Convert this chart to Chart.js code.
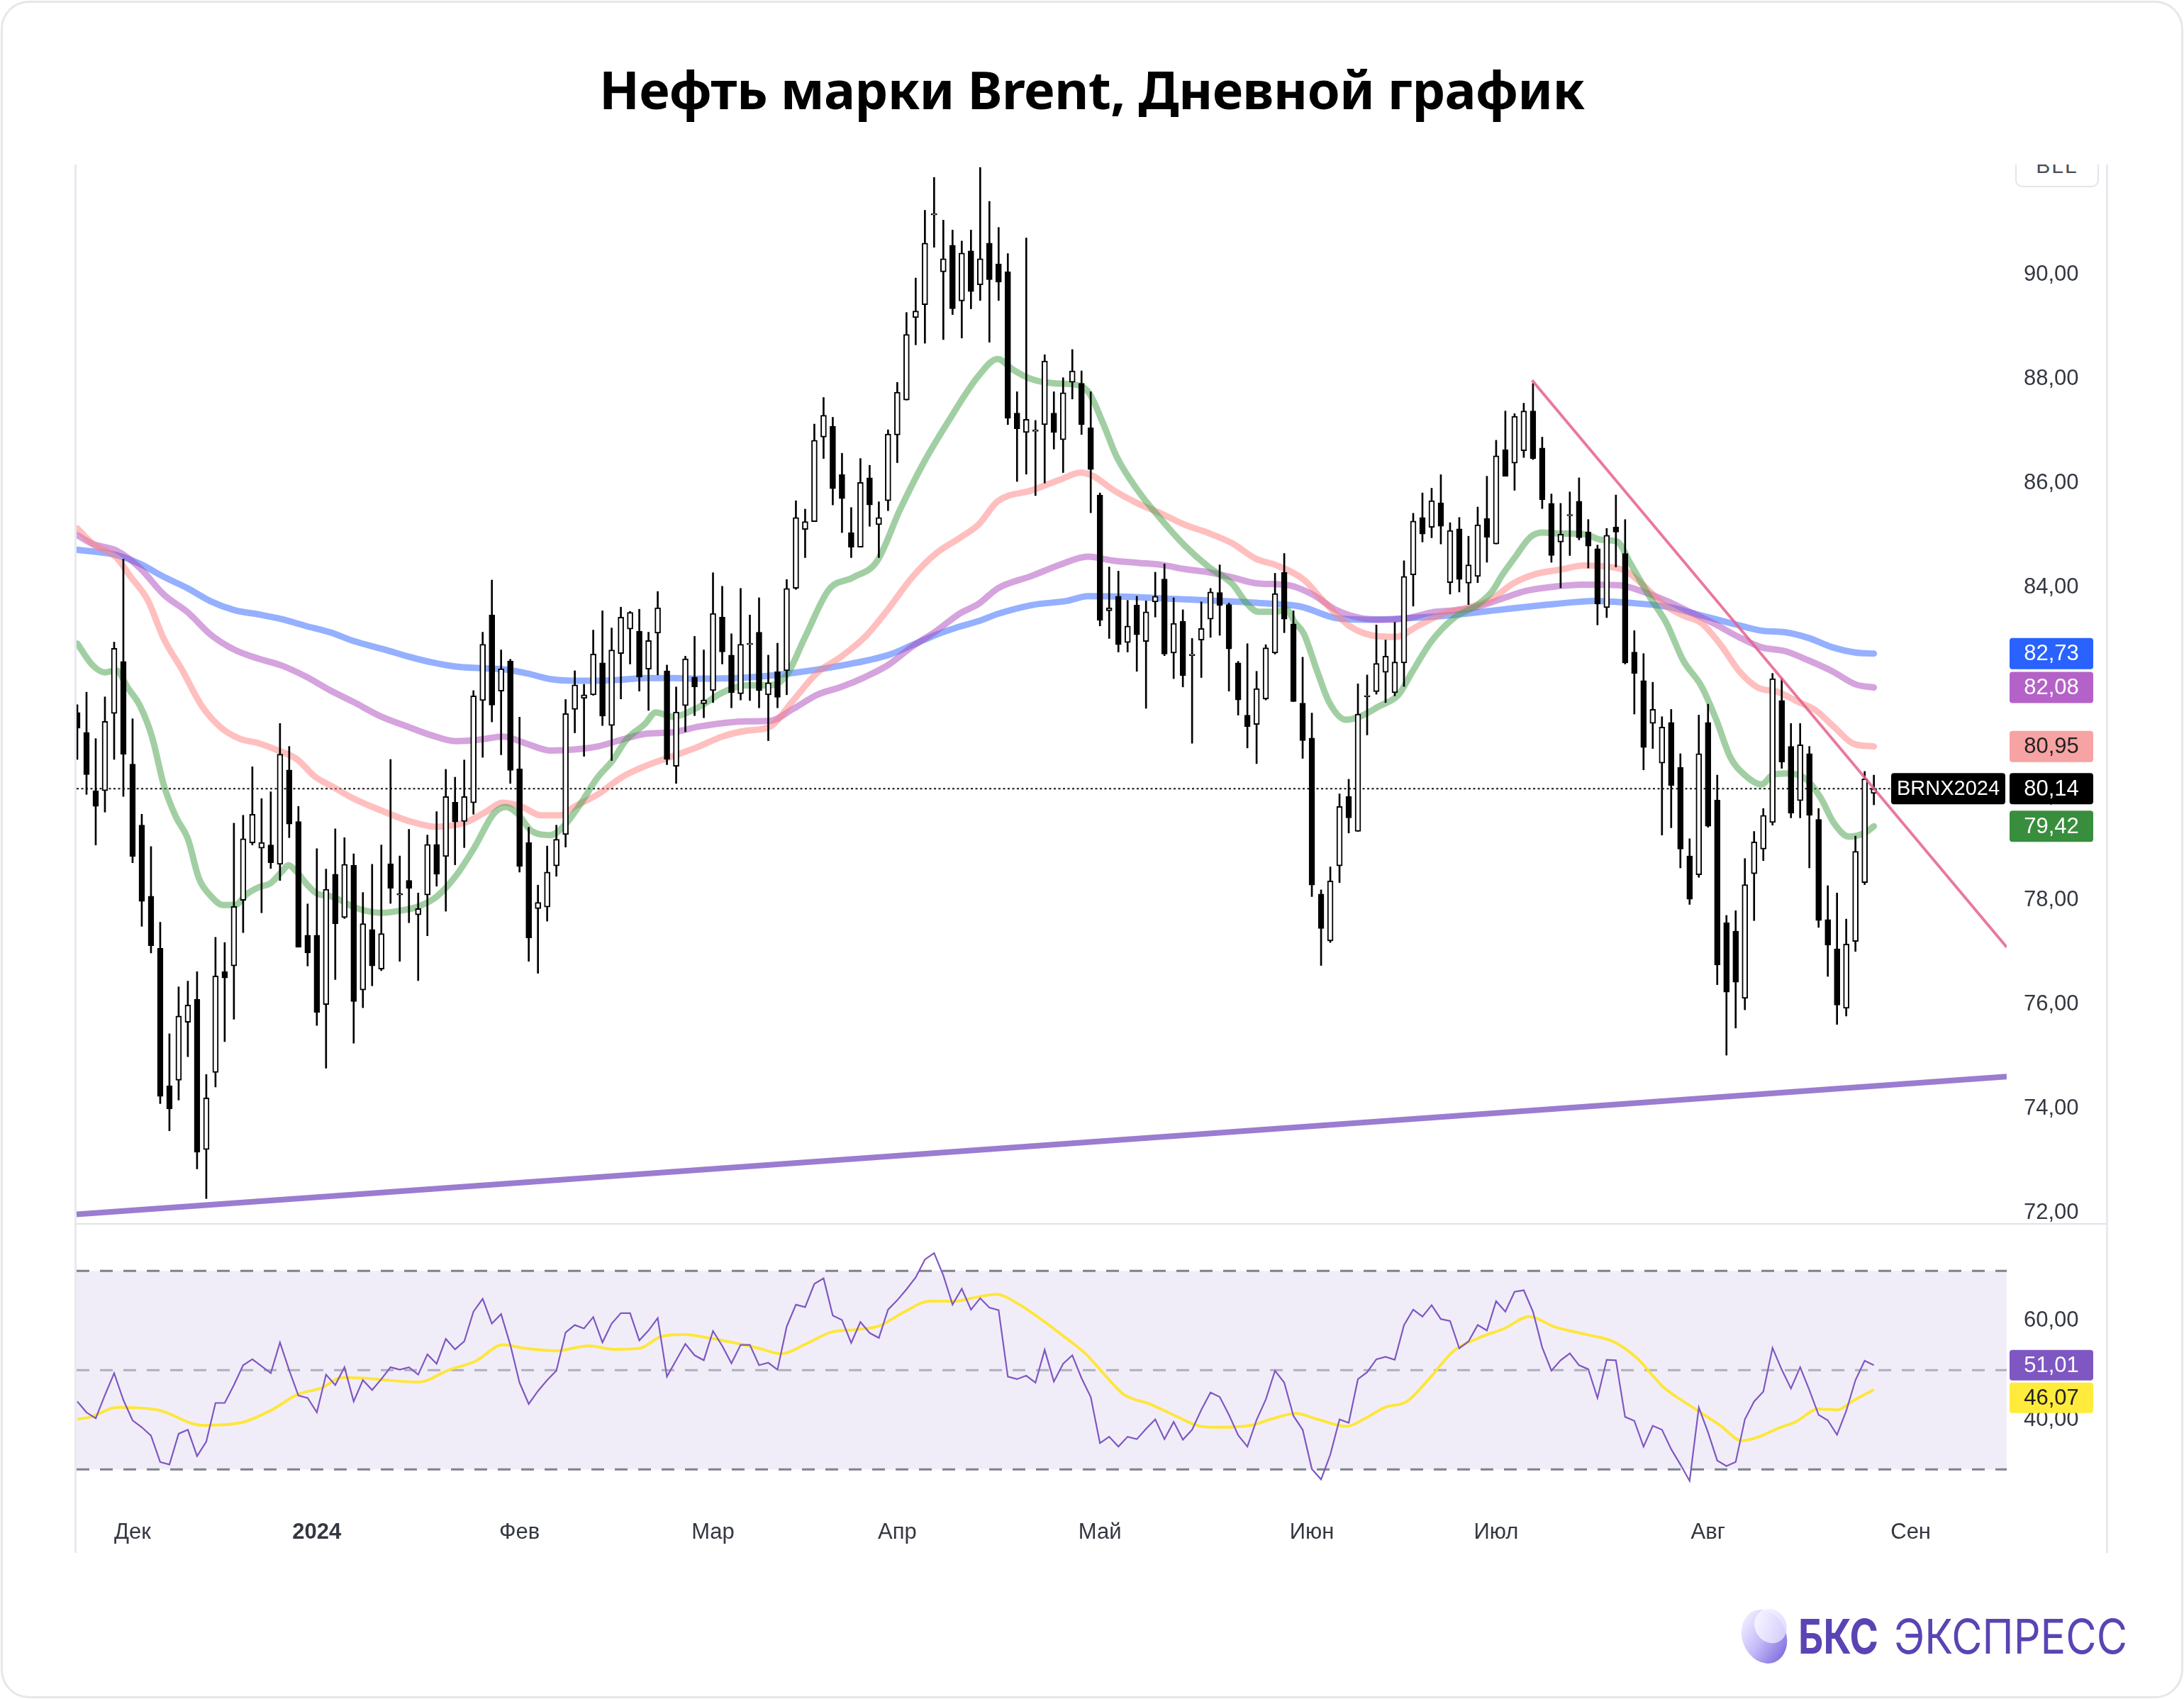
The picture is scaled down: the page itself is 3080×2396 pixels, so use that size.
<!DOCTYPE html>
<html><head><meta charset="utf-8">
<script src="https://cdn.jsdelivr.net/npm/chart.js@4.4.1/dist/chart.umd.min.js"></script>
<style>
html,body{margin:0;padding:0;background:#fff;}
#page{position:relative;width:3080px;height:2396px;overflow:hidden;background:#fff;}
#card{position:absolute;left:1px;top:1px;width:3078px;height:2394px;border:3px solid #e6e6ec;border-radius:40px;box-sizing:border-box;}
canvas{position:absolute;left:0;}
.ln{position:absolute;background:#e8e9ef;}
svg{position:absolute;left:0;top:0;}
#clipbox{position:absolute;left:2838px;top:232px;width:130px;height:36px;overflow:hidden;}
#btn{position:absolute;left:4px;top:-30px;width:118px;height:62px;border:2px solid #e4e5ea;border-radius:10px;box-sizing:border-box;background:#fff;
 font-family:'Liberation Sans',Arial,sans-serif;font-size:30px;color:#4a4d57;text-align:center;line-height:30px;padding-top:15px;letter-spacing:2px;}
</style></head><body>
<div id="page">
<div id="card"></div>
<svg width="3080" height="232"><text x="1540" y="154" text-anchor="middle" font-family="'Noto Sans', 'Open Sans', sans-serif" font-weight="700" font-size="74" fill="#000" textLength="1390" lengthAdjust="spacing">Нефть марки Brent, Дневной график</text></svg>
<div class="ln" style="left:105px;top:232px;width:3px;height:1958px"></div>
<div class="ln" style="left:2970px;top:232px;width:3px;height:1958px"></div>
<div class="ln" style="left:108px;top:1725px;width:2862px;height:2px;background:#e0e2e8"></div>
<div id="clipbox"><div id="btn">BLL</div></div>
<canvas id="price" width="3080" height="1760" style="top:0px"></canvas>
<canvas id="rsi" width="3080" height="696" style="top:1700px"></canvas>
<svg width="3080" height="2396" style="pointer-events:none">
 <defs>
  <linearGradient id="sg" x1="0.2" y1="0" x2="0.75" y2="1">
   <stop offset="0" stop-color="#f6f3ff"/><stop offset="0.5" stop-color="#c4baf8"/><stop offset="1" stop-color="#7d6cdc"/>
  </linearGradient>
  <linearGradient id="hg" x1="0" y1="0" x2="1" y2="1">
   <stop offset="0" stop-color="#ffffff"/><stop offset="1" stop-color="#d9d2ff"/>
  </linearGradient>
 </defs>
 <ellipse cx="2488" cy="2308" rx="31" ry="39" transform="rotate(-22 2488 2308)" fill="url(#sg)"/>
 <ellipse cx="2497" cy="2293" rx="22" ry="25" transform="rotate(-30 2497 2293)" fill="url(#hg)" opacity="0.85"/>
 <text x="2536" y="2332" font-family="Inter, 'Noto Sans', sans-serif" font-weight="700" font-size="68" fill="#5a44b4" textLength="113" lengthAdjust="spacingAndGlyphs">БКС</text>
 <text x="2671" y="2332" font-family="Inter, 'Noto Sans', sans-serif" font-weight="400" font-size="68" fill="#5a44b4" textLength="329" lengthAdjust="spacingAndGlyphs">ЭКСПРЕСС</text>
</svg>
</div>
<script>
// ---------- DATA ----------
const opens  = [81.6,81.22,80.10,80.10,81.58,82.58,80.61,79.44,78.08,77.08,74.44,74.55,75.66,76.10,73.22,74.70,76.63,76.74,78.00,79.10,79.00,79.06,78.69,80.50,79.51,77.33,77.33,76.00,78.50,77.67,78.67,76.28,77.44,76.68,78.70,78.10,78.38,77.72,78.10,79.07,78.84,79.88,79.51,79.87,81.83,83.47,82.01,82.59,80.52,79.11,77.84,77.87,78.66,79.26,81.66,81.87,81.94,82.55,81.35,82.73,83.20,83.16,82.43,83.12,82.40,80.57,81.73,82.28,81.77,82.02,83.43,82.70,81.96,82.90,83.14,81.94,82.38,82.40,83.98,85.11,85.26,86.88,87.09,86.16,85.05,84.77,86.10,85.20,85.66,86.92,87.59,89.17,89.42,91.14,90.05,90.56,89.49,90.45,89.80,90.60,90.20,90.05,87.34,86.97,86.99,87.12,87.34,86.83,87.93,87.91,87.06,85.77,83.55,83.83,82.94,83.66,82.96,83.72,84.16,82.74,83.35,82.69,82.99,83.39,83.90,83.67,82.55,81.55,81.37,81.86,82.74,84.29,83.30,81.78,81.11,78.12,77.22,78.66,79.99,79.32,81.90,82.00,82.37,81.98,82.55,84.24,85.34,85.15,85.62,84.09,85.12,84.08,84.21,85.32,84.83,86.64,86.38,86.62,87.38,86.67,85.61,84.87,85.37,85.65,85.06,84.74,83.61,85.16,84.65,82.76,82.21,81.39,80.63,81.41,80.55,78.85,78.49,81.41,79.92,77.57,77.41,76.12,78.51,78.98,79.49,81.83,80.95,79.91,80.81,79.55,77.63,77.07,75.93,77.21,78.34,80.05];
const highs  = [81.75,81.99,81.10,81.90,82.95,84.54,81.48,79.65,79.03,77.58,75.44,76.34,76.45,76.63,74.66,77.29,77.19,79.48,79.63,80.56,79.95,80.08,81.39,80.95,79.80,77.93,78.99,78.60,79.37,79.20,78.89,78.15,78.69,79.06,80.70,78.85,79.36,78.14,79.25,79.70,80.51,80.36,80.69,82.02,83.14,84.14,82.80,82.62,81.51,79.40,78.29,79.04,79.44,81.85,82.40,82.14,83.18,83.55,83.22,83.62,83.54,83.58,83.14,83.92,82.51,82.09,82.68,83.06,82.80,84.28,84.02,83.11,83.98,83.47,83.80,82.70,82.93,84.15,85.66,85.50,87.13,87.64,87.26,86.57,85.53,86.47,86.34,85.64,87.02,87.93,89.27,89.93,91.23,91.86,91.04,90.85,90.64,90.85,92.05,91.40,90.90,90.40,87.75,90.70,87.20,88.46,87.75,88.02,88.56,88.15,87.75,85.81,84.39,84.31,83.75,83.83,83.74,84.29,84.45,83.80,83.57,83.02,83.72,83.98,84.43,83.70,82.58,82.92,82.39,82.90,84.27,84.65,83.55,82.66,81.59,78.20,78.64,80.04,80.32,82.15,82.32,83.28,82.99,83.33,84.51,85.42,85.81,85.90,86.16,85.24,85.34,84.98,85.54,86.13,86.82,87.38,87.33,87.53,87.91,86.88,85.79,85.61,85.83,86.10,85.30,84.81,85.13,85.77,85.30,83.17,82.73,82.18,81.52,81.66,80.81,79.18,81.55,81.76,80.40,77.71,77.80,78.80,79.32,79.76,82.35,82.25,81.39,81.39,80.95,79.76,78.28,78.14,77.64,79.23,80.47,80.40];
const lows   = [80.7,80.03,79.06,79.69,80.70,79.99,78.72,77.50,76.99,74.10,73.58,74.17,75.00,72.85,72.28,74.42,75.29,75.72,77.38,79.06,77.76,78.61,78.38,79.20,77.10,76.74,75.60,74.78,76.48,77.65,75.26,75.94,76.36,76.65,77.94,76.83,77.57,76.46,77.32,78.27,77.79,78.68,79.01,79.65,80.74,81.42,80.79,80.24,78.54,76.83,76.60,77.60,78.46,79.02,81.21,80.76,81.93,81.35,80.68,81.86,82.53,82.01,81.64,82.32,80.60,80.24,81.23,81.54,81.50,81.79,82.53,81.69,81.84,81.83,81.69,81.06,81.69,81.94,83.96,84.57,85.26,86.47,85.58,85.05,84.57,84.77,85.17,84.57,85.47,86.39,87.59,88.65,88.68,90.52,88.75,89.23,88.78,89.34,89.50,88.70,89.50,87.12,86.03,86.17,85.76,86.00,86.65,86.20,87.61,86.93,85.43,83.26,83.02,82.76,82.76,82.39,81.68,83.43,82.69,82.25,82.09,81.01,82.27,83.04,83.08,82.01,81.55,80.92,80.62,81.84,82.72,83.13,81.81,80.72,78.07,76.75,77.19,78.34,79.29,79.32,81.17,81.95,81.79,81.92,82.10,83.64,84.87,84.95,84.83,83.87,83.91,83.67,84.09,84.48,84.83,86.13,85.86,86.49,86.45,85.51,84.48,83.99,84.61,84.91,84.37,83.28,83.42,84.39,82.53,81.57,80.50,80.91,79.25,79.39,78.62,77.92,78.44,79.40,76.38,75.03,75.55,75.90,77.61,78.76,79.44,80.53,79.58,79.58,78.62,77.48,76.54,75.62,75.78,77.02,78.30,79.83];
const closes = [81.3,80.41,79.80,81.43,82.83,80.80,78.84,77.98,77.13,74.24,74.00,75.78,75.99,73.17,74.21,76.55,76.51,77.88,79.18,79.65,79.11,78.72,80.80,79.46,77.10,76.99,75.85,78.21,77.55,78.69,76.06,77.55,76.74,77.36,78.23,78.12,78.23,77.84,79.07,78.50,79.99,79.50,79.99,81.92,82.91,81.74,82.44,80.49,78.65,77.28,77.96,78.54,79.17,81.58,82.13,81.94,82.72,81.53,82.80,83.43,83.52,82.28,82.98,83.61,80.70,81.61,82.63,82.09,81.84,83.50,82.76,81.98,82.91,82.92,82.02,82.17,81.89,83.98,85.34,85.26,86.82,87.30,85.89,85.70,84.77,86.01,85.58,85.34,86.94,87.74,88.85,89.30,90.60,91.16,90.30,89.34,90.41,89.67,90.30,89.90,89.85,87.24,87.04,87.22,87.01,88.34,86.97,87.73,88.15,87.12,86.26,83.37,83.61,82.90,83.26,83.09,83.53,83.83,82.72,83.31,82.31,82.70,83.21,83.91,83.65,82.82,81.84,81.33,82.06,82.84,83.88,83.39,81.81,81.06,78.29,77.46,78.37,79.80,79.58,81.57,81.91,82.54,82.68,82.57,84.21,85.27,85.02,85.66,85.17,85.09,84.15,84.43,85.20,84.96,86.52,86.13,87.28,87.38,86.47,85.68,84.61,85.02,85.38,84.95,84.79,83.68,85.00,85.06,82.55,82.35,80.93,81.66,81.32,80.20,78.98,78.02,80.81,79.42,76.76,76.24,76.43,78.30,79.12,79.63,82.25,80.65,79.67,80.98,79.63,77.61,77.14,75.99,77.16,78.94,80.33,80.14];

const maGreen  = [[0,82.92],[1.7,82.5],[3,82.37],[4.2,82.41],[5.5,82.07],[6.8,81.73],[8.1,81.14],[9.4,80.2],[10.7,79.6],[12,79.18],[13.2,78.42],[14.5,78.08],[15.8,77.91],[17.1,77.91],[18.4,78.12],[19.7,78.25],[21,78.33],[22.2,78.55],[22.9,78.67],[23.8,78.55],[24.8,78.33],[26.1,78.12],[27.4,78.08],[28.7,77.99],[30,77.87],[31.3,77.8],[33,77.76],[35,77.8],[37,77.88],[39,78.07],[41.1,78.47],[43.1,79.01],[45.2,79.66],[46.5,79.79],[47.8,79.66],[49.3,79.33],[51.4,79.25],[52.9,79.44],[54.5,79.82],[56.5,80.36],[58.1,80.68],[59.6,81.08],[61.6,81.38],[62.8,81.6],[64.6,81.52],[67.5,81.71],[70,81.98],[72.6,82.12],[75.2,82.12],[77,82.32],[79,83.05],[81.6,83.96],[84.2,84.19],[86.8,84.5],[89.3,85.49],[91.9,86.4],[94.5,87.17],[97.8,88.05],[99.9,88.38],[101.5,88.18],[103.6,87.99],[106.2,87.91],[108.2,87.89],[109.8,87.73],[111.3,87.16],[112.8,86.51],[115.1,85.86],[117.7,85.29],[120.2,84.8],[122.8,84.39],[125.4,84.06],[126.9,83.7],[128.2,83.53],[130,83.53],[131.3,83.57],[132.1,83.34],[133.1,83.12],[134.6,82.38],[135.9,81.79],[137.7,81.46],[139.3,81.53],[141.3,81.72],[143.4,81.94],[144.9,82.38],[147,82.97],[149.4,83.41],[152,83.67],[153.6,83.93],[154.6,84.22],[156.1,84.59],[157.7,84.96],[159,85.05],[161,85.03],[163.5,85.02],[165.5,84.91],[167.1,84.88],[168.6,84.45],[170.7,83.81],[172.5,83.31],[174.3,82.6],[176.3,82.1],[177.9,81.46],[179.4,80.75],[181,80.4],[182.8,80.22],[184,80.4],[185.6,80.43],[187.6,80.33],[189.2,79.97],[190.7,79.47],[192.3,79.22],[194.1,79.3],[195,79.42]];
const maPink   = [[0,85.13],[1.7,84.83],[4.2,84.58],[5.8,84.2],[7.6,83.77],[9.4,83.01],[11.4,82.41],[13.5,81.73],[15.6,81.31],[17.6,81.1],[19.7,81.01],[21.7,80.88],[23.8,80.71],[25.8,80.37],[27.9,80.16],[30,79.95],[33,79.72],[36,79.52],[39,79.41],[42.1,79.49],[44.2,79.68],[46.2,79.87],[48.3,79.79],[50.3,79.63],[52.4,79.63],[53.9,79.79],[56.5,80.03],[59.1,80.36],[61.6,80.57],[64.6,80.76],[67.5,80.95],[70,81.14],[72.6,81.25],[75.2,81.33],[77.7,81.83],[80.3,82.36],[82.9,82.67],[85.5,83.05],[88,83.58],[90.6,84.19],[93.2,84.65],[95.8,84.95],[97.8,85.2],[99.9,85.65],[103.6,85.86],[106.6,86.06],[108.9,86.2],[110.2,86.14],[112.5,85.86],[115.1,85.61],[117.7,85.41],[120.2,85.2],[122.8,85.04],[125.4,84.84],[127.9,84.55],[130.2,84.42],[133.1,84.15],[135.4,83.71],[138,83.27],[140.5,83.08],[143.1,83.05],[145.6,83.27],[148.2,83.49],[150.7,83.6],[153.3,83.75],[155.9,84.08],[158.4,84.26],[161,84.34],[163.5,84.42],[166,84.4],[168.1,84.31],[170.1,84.02],[172.2,83.67],[174.3,83.46],[176.3,83.31],[178.4,82.89],[180.4,82.39],[182.5,82.07],[184.5,82.0],[186.6,81.82],[188.7,81.64],[190.7,81.32],[192.8,81.0],[195,80.95]];
const maPurple = [[0,85.0],[1.7,84.83],[4.2,84.71],[6.8,84.37],[9.4,83.86],[12,83.52],[14.5,83.09],[17.1,82.8],[19.7,82.63],[22.2,82.5],[24.8,82.29],[27.4,82.03],[30,81.8],[33,81.52],[36,81.32],[38.5,81.16],[41.1,81.05],[43.7,81.08],[46.2,81.14],[48.8,81.0],[51.4,80.87],[53.9,80.89],[56.5,80.95],[59.1,81.08],[61.6,81.19],[64.6,81.22],[67.5,81.33],[72.6,81.43],[75.2,81.44],[77.7,81.67],[80.3,81.94],[82.9,82.09],[85.5,82.28],[88,82.51],[90.6,82.86],[93.2,83.16],[95.8,83.5],[97.8,83.68],[99.9,83.98],[103.6,84.22],[106.6,84.43],[109.7,84.59],[112.5,84.51],[115.1,84.47],[117.7,84.43],[120.2,84.35],[122.8,84.29],[125.4,84.19],[127.9,84.08],[131.5,84.04],[134.1,83.86],[136.7,83.56],[139.3,83.41],[141.8,83.38],[144.4,83.41],[147,83.52],[149.4,83.56],[152,83.63],[154.6,83.78],[157.2,83.93],[159.7,84.0],[163.5,84.05],[167.3,84.04],[169.9,83.92],[172.5,83.74],[175,83.53],[177.6,83.31],[180.2,83.06],[182.8,82.85],[185.3,82.78],[187.9,82.6],[190.5,82.39],[193,82.14],[195,82.08]];
const maBlue   = [[0,84.72],[4.2,84.62],[6.8,84.45],[9.4,84.2],[12,83.98],[14.5,83.73],[17.1,83.56],[19.7,83.48],[22.2,83.39],[24.8,83.26],[27.4,83.14],[30,82.97],[33.5,82.8],[36,82.67],[38.5,82.56],[41.1,82.48],[43.7,82.45],[46.2,82.43],[48.8,82.35],[51.4,82.24],[53.9,82.21],[56.5,82.21],[59.1,82.23],[61.6,82.26],[64.6,82.26],[67.5,82.25],[72.6,82.27],[77.7,82.36],[82.9,82.5],[88,82.7],[90.6,82.89],[93.2,83.09],[95.8,83.25],[97.8,83.35],[99.9,83.49],[103.6,83.66],[107.4,83.74],[109.7,83.83],[113.8,83.82],[118.9,83.78],[124.1,83.74],[129.2,83.69],[132.8,83.63],[136.7,83.41],[140.5,83.38],[144.4,83.41],[148.2,83.45],[152,83.52],[155.9,83.6],[159.7,83.67],[162.8,83.72],[164.7,83.74],[168.6,83.7],[172.5,83.63],[176.3,83.46],[180.2,83.28],[182.8,83.17],[185.3,83.14],[187.9,83.03],[190.5,82.85],[193,82.75],[195,82.73]];

const trendDown = [[157.9,87.97],[209.42,77.1]];
const trendUp   = [[-0.077,71.98],[209.42,74.62]];

const rsiValues = [43.7,41.5,40.3,45,49.4,44,39.9,38.5,36.8,31.5,31.0,37.2,38.0,32.7,35.6,43.4,43.4,47,51.0,52.2,50.8,49.4,55.6,50,44.9,44.4,41.5,49.1,47.0,50.6,43.7,48.0,46.0,48.2,50.6,50.1,50.6,49.1,53.2,51.3,56.3,54.2,55.8,61.8,64.4,59.4,61.3,55.1,47.5,43.2,45.8,48.0,49.9,57.6,59.1,58.4,60.7,55.6,59.4,61.5,61.5,56.0,58,60.5,48.7,52.0,55.3,53.0,52.0,57.9,54.9,51.4,55.1,55.1,51.0,51.5,50.1,58.8,63.2,62.7,67.4,68.5,61.0,60.1,55.5,59.7,57.5,56.5,62.2,64.1,66.3,68.7,72.3,73.6,69.1,63.2,66.4,62.2,64.5,62.6,62.1,48.7,48.2,48.9,47.5,54.1,47.7,51.3,53.0,48.4,44.6,35.3,36.6,34.6,36.6,36.1,38.2,40.1,36.1,39.6,36.0,38.0,42,45.5,44.6,41,36.9,34.6,40,44.1,49.9,47.5,40.8,38.0,30.1,28.0,33.0,40.1,39.4,48.2,49.6,52.2,52.7,52.1,59.1,62.2,60.8,63.1,60.3,59.9,54.4,55.8,59.1,58.0,63.9,61.8,65.8,66.1,61.8,54.6,49.9,52.0,53.4,51.0,50.2,44.4,52.1,52.0,40.6,39.8,34.6,38.8,38.0,34.1,31.0,27.7,42.5,37.5,31.8,30.7,31.5,40.1,43.7,45.7,54.5,50.1,46.3,50.6,46.0,41.0,39.9,37.0,41.8,48.0,51.9,51.0];
const rsiMA = [[0,40.1],[1.5,40.6],[4.3,42.5],[8.7,42.0],[13.6,38.9],[17.7,39.4],[21.1,42.0],[23.9,45.1],[26.6,46.5],[28.7,48.5],[31.1,48.4],[34.2,47.9],[37,47.6],[40.4,50.1],[43.2,51.8],[46.2,55.1],[48.6,54.4],[52,53.9],[55.5,54.9],[58.3,54.2],[61,54.4],[63.4,56.8],[65.8,57.2],[68.5,56.5],[71.9,55.3],[74,54.4],[76.4,53.3],[79.1,55.3],[81.9,57.7],[84.6,58.2],[87,58.9],[89.8,61.8],[92.5,63.9],[95.2,63.9],[97.6,64.7],[99.7,65.3],[102.1,63.4],[104.2,60.8],[106.8,57.2],[109.5,53.2],[111.6,48.9],[113.6,45.1],[116.4,43.2],[119.2,40.8],[121.9,38.7],[124,38.5],[127.4,38.9],[129.5,40.1],[132.3,41.3],[134.3,40.3],[137.8,38.7],[139.8,40.3],[141.9,42.5],[144.3,43.7],[146.6,48.0],[149.4,53.9],[152.1,56.5],[154.9,58.4],[157.6,60.8],[160.4,58.7],[163.8,57.2],[166.9,55.6],[169.3,52.4],[172.1,46.7],[175.6,42.2],[178.3,38.9],[180.7,35.8],[182.4,36.5],[184.5,38.2],[186.5,39.6],[189,42.2],[191,42.0],[192.8,43.9],[195,46.07]];

const monthTickIdx    = [6,26,48,69,89,111,134,154,177,199];
const monthTickLabels = ['Дек','2024','Фев','Мар','Апр','Май','Июн','Июл','Авг','Сен'];
const priceTicks = [72,74,76,78,80,82,84,86,88,90];
const rsiTicks   = [40,60];
const rsiLevels  = [70,50,30];
const lastPrice  = 80.14;
const symbolName = 'BRNX2024';
const priceTagValues = [82.73,82.08,80.95,80.14,79.42];
const rsiTagValues   = [51.01,46.07];

// ---------- STYLE / LAYOUT ----------
const XMIN=-0.077, XMAX=209.42, PMIN=71.795, PMAX=92.107, RMIN=21.76, RMAX=79.47;
const FONT = "'Liberation Sans', Arial, sans-serif";
const priceTagBg = ['#2962ff','#b562c8','#f7a3a3','#000000','#388e3c'];
const priceTagFg = ['#ffffff','#ffffff','#222222','#ffffff','#ffffff'];
const rsiTagBg = ['#7e57c2','#ffeb3b'], rsiTagFg = ['#ffffff','#222222'];
const fmt = v => v.toFixed(2).replace('.', ',');
const idx = closes.map((_, i) => i);
const pts = a => a.map(p => ({x:p[0], y:p[1]}));

function tagBox(ctx, x, w, yc, h, bg, fg, text, font){
  ctx.save();
  ctx.fillStyle = bg;
  ctx.beginPath(); ctx.roundRect(x, yc - h/2, w, h, 4); ctx.fill();
  ctx.fillStyle = fg; ctx.font = font; ctx.textAlign = 'center'; ctx.textBaseline = 'middle';
  ctx.fillText(text, x + w/2, yc + 1);
  ctx.restore();
}
function placeTags(ys, h){ const out=[]; ys.forEach((y,k)=>{ let yy=y; if(k>0 && yy-out[k-1] < h+3) yy = out[k-1]+h+3; out.push(yy);}); return out; }

const fixY = w => (s) => { s.width = w; s.paddingTop = 0; s.paddingBottom = 0; };

const pricePlugin = {
  id:'priceDeco',
  beforeDatasetsDraw(chart){
    const {ctx, chartArea:a} = chart; const y = chart.scales.y.getPixelForValue(lastPrice);
    ctx.save(); ctx.strokeStyle='#111'; ctx.lineWidth=2; ctx.setLineDash([3,3.5]);
    ctx.beginPath(); ctx.moveTo(a.left, y); ctx.lineTo(a.right, y); ctx.stroke(); ctx.restore();
  },
  afterDraw(chart){
    const {ctx, chartArea:a} = chart; const sy = chart.scales.y;
    const ys = placeTags(priceTagValues.map(v => sy.getPixelForValue(v)), 44);
    priceTagValues.forEach((v,k) => tagBox(ctx, a.right+4, 118, ys[k], 44, priceTagBg[k], priceTagFg[k], fmt(v), '31px '+FONT));
    tagBox(ctx, a.right-163, 161, sy.getPixelForValue(lastPrice), 44, '#000', '#fff', symbolName, '29px '+FONT);
  }
};
const rsiPlugin = {
  id:'rsiDeco',
  beforeDatasetsDraw(chart){
    const {ctx, chartArea:a} = chart; const sy = chart.scales.y;
    const y70 = sy.getPixelForValue(rsiLevels[0]), y30 = sy.getPixelForValue(rsiLevels[2]);
    ctx.save();
    ctx.fillStyle = 'rgba(126,87,194,0.11)'; ctx.fillRect(a.left, y70, a.right-a.left, y30-y70);
    rsiLevels.forEach((lv,k) => {
      const y = sy.getPixelForValue(lv);
      ctx.strokeStyle = k===1 ? 'rgba(120,123,134,0.55)' : 'rgba(120,123,134,0.95)';
      ctx.lineWidth = 3; ctx.setLineDash([18,15]);
      ctx.beginPath(); ctx.moveTo(a.left, y); ctx.lineTo(a.right, y); ctx.stroke();
    });
    ctx.restore();
  },
  afterDraw(chart){
    const {ctx, chartArea:a} = chart; const sy = chart.scales.y;
    const ys = placeTags(rsiTagValues.map(v => sy.getPixelForValue(v)), 43);
    rsiTagValues.forEach((v,k) => tagBox(ctx, a.right+4, 118, ys[k], 43, rsiTagBg[k], rsiTagFg[k], fmt(v), '31px '+FONT));
  }
};

const maLine = (data, color, order) => ({type:'line', data:pts(data), borderColor:color, borderWidth:9, pointRadius:0, cubicInterpolationMode:'monotone', order, borderCapStyle:'round'});
const trLine = (data, color, w) => ({type:'line', data:pts(data), borderColor:color, borderWidth:w, pointRadius:0, tension:0, order:0});

new Chart(document.getElementById('price'), {
  type:'bar',
  data:{datasets:[
    maLine(maBlue,  'rgba(41,98,255,0.5)', 13),
    maLine(maPurple,'rgba(171,71,188,0.5)', 12),
    maLine(maPink,  'rgba(255,128,128,0.5)', 11),
    maLine(maGreen, 'rgba(67,160,71,0.5)', 10),
    {type:'bar', data: idx.map(i => ({x:i, y:[lows[i], highs[i]]})), backgroundColor:'#000', barThickness:2, grouped:false, order:6},
    {type:'bar', data: idx.map(i => ({x:i, y:[opens[i], closes[i]]})),
      backgroundColor: idx.map(i => closes[i] >= opens[i] ? '#ffffff' : '#000000'),
      borderColor:'#000', borderWidth:2, borderSkipped:false, barThickness:8, minBarLength:2, grouped:false, order:5},
    trLine(trendDown, 'rgba(229,96,140,0.85)', 4),
    trLine(trendUp, 'rgba(149,117,205,0.95)', 8)
  ]},
  options:{
    responsive:false, animation:false, events:[],
    layout:{padding:{left:108, right:108, top:232, bottom:34}},
    plugins:{legend:{display:false}, tooltip:{enabled:false}},
    scales:{
      x:{type:'linear', min:XMIN, max:XMAX, offset:false, display:false},
      y:{type:'linear', position:'right', min:PMIN, max:PMAX,
         grid:{display:false, drawTicks:false}, border:{display:false},
         afterBuildTicks: ax => { ax.ticks = priceTicks.map(v => ({value:v})); },
         afterFit: fixY(142),
         ticks:{padding:24, color:'#333740', font:{family:FONT, size:31}, callback: v => fmt(v)}}
    }
  },
  plugins:[pricePlugin]
});

new Chart(document.getElementById('rsi'), {
  type:'line',
  data:{datasets:[
    {data: pts(rsiMA), borderColor:'rgba(255,230,50,0.95)', borderWidth:4, pointRadius:0, cubicInterpolationMode:'monotone', order:2},
    {data: idx.map(i => ({x:i, y:rsiValues[i]})), borderColor:'#7e57c2', borderWidth:2.2, pointRadius:0, tension:0, order:1}
  ]},
  options:{
    responsive:false, animation:false, events:[],
    layout:{padding:{left:108, right:108, top:26, bottom:206}},
    plugins:{legend:{display:false}, tooltip:{enabled:false}},
    scales:{
      x:{type:'linear', min:XMIN, max:XMAX, offset:false,
         grid:{display:false, drawTicks:false}, border:{display:false},
         afterBuildTicks: ax => { ax.ticks = monthTickIdx.map(v => ({value:v})); },
         afterFit: s => { s.height = 60; s.paddingLeft = 0; s.paddingRight = 0; },
         ticks:{autoSkip:false, maxRotation:0, padding:13, color:'#333740',
           font: c => ({family:FONT, size:31, weight: (c.tick && c.tick.value === 26) ? 'bold' : 'normal'}),
           callback: (v, k) => monthTickLabels[k]}},
      y:{type:'linear', position:'right', min:RMIN, max:RMAX,
         grid:{display:false, drawTicks:false}, border:{display:false},
         afterBuildTicks: ax => { ax.ticks = rsiTicks.map(v => ({value:v})); },
         afterFit: fixY(142),
         ticks:{padding:24, color:'#333740', font:{family:FONT, size:31}, callback: v => fmt(v)}}
    }
  },
  plugins:[rsiPlugin]
});
</script>
</body></html>
